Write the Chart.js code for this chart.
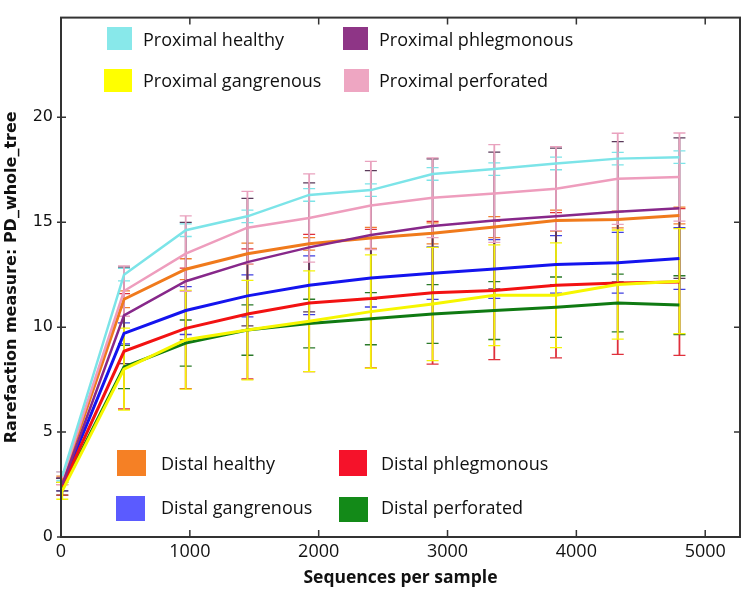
<!DOCTYPE html>
<html>
<head>
<meta charset="utf-8">
<script src="https://cdn.jsdelivr.net/npm/chart.js@4/dist/chart.umd.min.js"></script>
<style>
  html, body { margin: 0; padding: 0; background: #fff; }
  #wrap { position: relative; width: 742px; height: 589px; }
  #chart { position: absolute; left: 0; top: 0; }
  .lg-sw { position: absolute; }
  .lg-tx { position: absolute; font: 18px "Open Sans", sans-serif; color: #111; line-height: 24px; white-space: nowrap; }
</style>
</head>
<body>
<div id="wrap">
  <canvas id="chart" width="742" height="589"></canvas>
</div>
<script>
// rarefaction depths
const seqs = [10, 489, 968, 1447, 1926, 2405, 2884, 3363, 3842, 4321, 4800];

const labels = [
  "Proximal healthy", "Proximal phlegmonous", "Proximal gangrenous", "Proximal perforated",
  "Distal healthy", "Distal phlegmonous", "Distal gangrenous", "Distal perforated"
];

// mean PD_whole_tree
const proxHealthy  = [2.9, 12.5, 14.62, 15.28, 16.3, 16.53, 17.3, 17.53, 17.8, 18.03, 18.1];
const proxPhleg    = [2.5, 10.56, 12.19, 13.1, 13.8, 14.39, 14.82, 15.08, 15.28, 15.5, 15.67];
const proxGangr    = [2.2, 8.0, 9.4, 9.86, 10.28, 10.74, 11.1, 11.52, 11.52, 12.03, 12.19];
const proxPerf     = [2.8, 11.72, 13.5, 14.74, 15.2, 15.8, 16.17, 16.37, 16.6, 17.07, 17.15];
const distHealthy  = [2.7, 11.33, 12.76, 13.5, 13.97, 14.25, 14.47, 14.77, 15.08, 15.13, 15.32];
const distPhleg    = [2.4, 8.85, 9.94, 10.63, 11.15, 11.36, 11.64, 11.75, 12.0, 12.1, 12.15];
const distGangr    = [2.5, 9.7, 10.79, 11.49, 12.0, 12.34, 12.57, 12.77, 12.99, 13.07, 13.27];
const distPerf     = [2.3, 8.1, 9.24, 9.86, 10.17, 10.4, 10.63, 10.79, 10.95, 11.15, 11.05];

// error (half-length of bars)
const errProxHealthy = [0.2, 0.3, 0.3, 0.3, 0.3, 0.3, 0.3, 0.3, 0.3, 0.3, 0.3];
const errProxPhleg   = [0.3, 2.3, 2.8, 3.04, 3.07, 3.07, 3.2, 3.26, 3.25, 3.34, 3.35];
const errProxGangr   = [0.4, 1.95, 2.35, 2.37, 2.4, 2.7, 2.7, 2.4, 2.5, 2.6, 2.5];
const errProxPerf    = [0.3, 1.2, 1.8, 1.73, 2.1, 2.1, 1.9, 2.33, 2.0, 2.17, 2.1];
const errDistHealthy = [0.2, 0.4, 0.5, 0.5, 0.3, 0.5, 0.5, 0.5, 0.5, 0.4, 0.4];
const errDistPhleg   = [0.4, 2.75, 2.87, 3.1, 3.27, 3.3, 3.4, 3.3, 3.46, 3.4, 3.5];
const errDistGangr   = [0.3, 0.5, 1.14, 1.0, 1.4, 1.38, 1.25, 1.4, 1.37, 1.45, 1.47];
const errDistPerf    = [0.3, 1.03, 1.1, 1.2, 1.16, 1.24, 1.4, 1.38, 1.44, 1.38, 1.4];

const xTicks = [0, 1000, 2000, 3000, 4000, 5000];
const yTicks = [0, 5, 10, 15, 20];

const means = [proxHealthy, proxPhleg, proxGangr, proxPerf, distHealthy, distPhleg, distGangr, distPerf];
const errs = [errProxHealthy, errProxPhleg, errProxGangr, errProxPerf, errDistHealthy, errDistPhleg, errDistGangr, errDistPerf];
const lineColors = ["#7ce4e8", "#87288a", "#f6f600", "#ee9dbd", "#f07a1c", "#f21212", "#1414ee", "#0f7a12"];
const swatchColors = ["#88e8ea", "#8e3586", "#ffff00", "#eea6c2", "#f58025", "#f5122a", "#5b5bff", "#138a18"];
const barColors = ["#7ce4e8", "#5a3a5a", "#f4f40a", "#e9a2be", "#f08030", "#e0303c", "#4040e0", "#2a7a2a"];
const lineWidths = [2.5, 2.5, 3, 2.5, 3, 3, 3, 3];
// draw order for the error bars (last = on top)
const barOrder = [7, 6, 5, 4, 1, 0, 2, 3];

const datasets = labels.map((lab, i) => ({
  label: lab,
  data: seqs.map((s, j) => ({ x: s, y: means[i][j] })),
  borderColor: lineColors[i],
  backgroundColor: lineColors[i],
  borderWidth: lineWidths[i],
  pointRadius: 0,
  tension: 0,
  fill: false
}));

const errorBars = {
  id: "errorBars",
  beforeDatasetsDraw(chart) {
    const { ctx, scales: { x, y } } = chart;
    ctx.save();
    barOrder.forEach(i => {
      ctx.strokeStyle = barColors[i];
      seqs.forEach((s, j) => {
        const e = errs[i][j];
        if (!e) return;
        const px = x.getPixelForValue(s);
        const top = y.getPixelForValue(means[i][j] + e);
        const bot = y.getPixelForValue(means[i][j] - e);
        ctx.lineWidth = 1.8;
        ctx.beginPath();
        ctx.moveTo(px, top);
        ctx.lineTo(px, bot);
        ctx.stroke();
        ctx.lineWidth = 1.3;
        ctx.beginPath();
        ctx.moveTo(px - 6, top);
        ctx.lineTo(px + 6, top);
        ctx.moveTo(px - 6, bot);
        ctx.lineTo(px + 6, bot);
        ctx.stroke();
      });
    });
    ctx.restore();
  }
};

const frame = {
  id: "frame",
  afterDatasetsDraw(chart) {
    const { ctx, chartArea: a, scales: { x, y } } = chart;
    ctx.save();
    ctx.strokeStyle = "#333";
    ctx.lineWidth = 2;
    ctx.strokeRect(a.left, a.top, a.right - a.left, a.bottom - a.top);
    ctx.lineWidth = 1.5;
    ctx.beginPath();
    xTicks.forEach(v => {
      const px = x.getPixelForValue(v);
      ctx.moveTo(px, a.bottom);
      ctx.lineTo(px, a.bottom - 7);
      ctx.moveTo(px, a.top);
      ctx.lineTo(px, a.top + 7);
    });
    yTicks.forEach(v => {
      const py = y.getPixelForValue(v);
      ctx.moveTo(a.left - 4, py);
      ctx.lineTo(a.left + 5, py);
      ctx.moveTo(a.right, py);
      ctx.lineTo(a.right - 6, py);
    });
    ctx.stroke();
    ctx.restore();
  }
};

new Chart(document.getElementById("chart").getContext("2d"), {
  type: "line",
  data: { datasets },
  options: {
    responsive: false,
    animation: false,
    layout: { padding: { top: 5, right: 2, left: 0, bottom: 0 } },
    plugins: { legend: { display: false }, tooltip: { enabled: false } },
    scales: {
      x: {
        type: "linear",
        min: 0,
        max: 5270,
        afterBuildTicks: (s) => { s.ticks = xTicks.map(v => ({ value: v })); },
        afterFit: (s) => { s.height = 52; },
        grid: { display: false, drawTicks: false },
        border: { display: false },
        ticks: {
          padding: 4,
          color: "#111",
          font: { family: "Open Sans", size: 18 },
          callback: (v) => String(v)
        },
        title: {
          display: true,
          text: "Sequences per sample",
          color: "#111",
          padding: { top: 0, bottom: 0 },
          font: { family: "Open Sans", size: 17.5, weight: "bold" }
        }
      },
      y: {
        min: 0,
        max: 24.75,
        afterBuildTicks: (s) => { s.ticks = yTicks.map(v => ({ value: v })); },
        afterFit: (s) => { s.width = 61; },
        grid: { display: false, drawTicks: false },
        border: { display: false },
        ticks: {
          padding: 8,
          color: "#111",
          font: { family: "DejaVu Sans", size: 16 },
          callback: (v) => String(v)
        },
        title: {
          display: true,
          text: "Rarefaction measure: PD_whole_tree",
          color: "#111",
          padding: { top: 2, bottom: 0 },
          font: { family: "DejaVu Sans", size: 16, weight: "bold" }
        }
      }
    }
  },
  plugins: [errorBars, frame]
});

// legends as two blocks inside the plot
const wrap = document.getElementById("wrap");
const legendSlots = [
  { sw: [107, 27, 25, 23], tx: [143, 27] },
  { sw: [343, 27, 25, 23], tx: [379, 27] },
  { sw: [104, 69, 28, 23], tx: [143, 68] },
  { sw: [344, 69, 25, 23], tx: [379, 68] },
  { sw: [117, 450, 29, 26], tx: [161, 451] },
  { sw: [339, 450, 28, 26], tx: [381, 451] },
  { sw: [116, 496, 29, 25], tx: [161, 495] },
  { sw: [339, 497, 29, 25], tx: [381, 495] }
];
labels.forEach((lab, i) => {
  const s = legendSlots[i];
  const sw = document.createElement("div");
  sw.className = "lg-sw";
  sw.style.left = s.sw[0] + "px";
  sw.style.top = s.sw[1] + "px";
  sw.style.width = s.sw[2] + "px";
  sw.style.height = s.sw[3] + "px";
  sw.style.background = swatchColors[i];
  wrap.appendChild(sw);
  const tx = document.createElement("div");
  tx.className = "lg-tx";
  tx.style.left = s.tx[0] + "px";
  tx.style.top = s.tx[1] + "px";
  tx.textContent = lab;
  wrap.appendChild(tx);
});
</script>
</body>
</html>
